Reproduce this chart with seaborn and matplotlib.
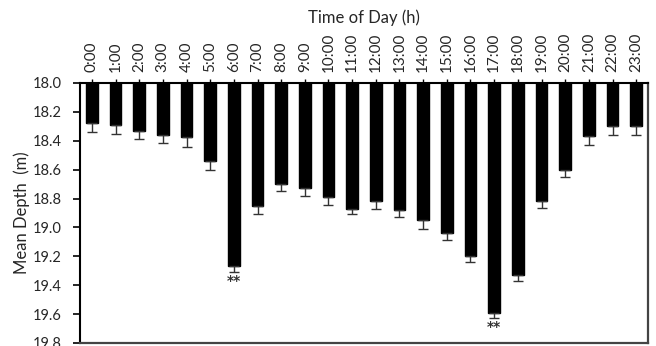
import matplotlib
matplotlib.use("Agg")
import matplotlib.pyplot as plt
import seaborn as sns
import pandas as pd
import numpy as np

hours = [f"{h}:00" for h in range(24)]
mean_depth = [18.28, 18.29, 18.33, 18.36, 18.375, 18.54, 19.27, 18.85,
              18.70, 18.73, 18.79, 18.87, 18.82, 18.88, 18.95, 19.04,
              19.20, 19.59, 19.33, 18.815, 18.60, 18.365, 18.30, 18.30]
depth_se = [0.06, 0.06, 0.055, 0.055, 0.065, 0.06, 0.04, 0.055,
            0.05, 0.055, 0.055, 0.04, 0.055, 0.05, 0.06, 0.05,
            0.04, 0.04, 0.04, 0.05, 0.05, 0.065, 0.06, 0.06]
significant = ["", "", "", "", "", "", "**", "", "", "", "", "", "", "", "",
               "", "", "**", "", "", "", "", "", ""]
y_ticks = [18.0, 18.2, 18.4, 18.6, 18.8, 19.0, 19.2, 19.4, 19.6, 19.8]

df = pd.DataFrame({"hour": hours, "depth": mean_depth})

sns.set_theme(style="white")
plt.rcParams["font.family"] = ["Lato", "DejaVu Sans"]

fig = plt.figure(figsize=(6.56, 3.46), dpi=100)
ax = fig.add_axes([80 / 656, 3 / 346, 568 / 656, 260 / 346])

sns.barplot(data=df, x="hour", y="depth", color="black", width=0.5,
            saturation=1, ax=ax, errorbar=None, edgecolor="black")

x = np.arange(len(hours))
ax.errorbar(x, mean_depth, yerr=[np.zeros(len(hours)), depth_se], fmt="none",
            ecolor="#333333", elinewidth=1.0, capsize=3.5, capthick=1.0)

# significance markers just below the error bars
for xi, (v, e, s) in enumerate(zip(mean_depth, depth_se, significant)):
    if s:
        ax.text(xi, v + e + 0.06, s, ha="center", va="center", fontsize=10,
                color="#333333", fontweight="bold", family="DejaVu Sans")

ax.set_ylim(19.8, 18.0)
ax.set_xlim(-0.5, 23.5)
ax.set_yticks(y_ticks)
ax.set_yticklabels([f"{t:.1f}" for t in y_ticks], fontsize=10.5)

ax.xaxis.tick_top()
ax.xaxis.set_label_position("top")
ax.set_xticks(x)
ax.set_xticklabels(hours, rotation=90, fontsize=11)
ax.set_xlabel("Time of Day (h)", fontsize=12, labelpad=7)
ax.set_ylabel("Mean Depth  (m)", fontsize=12, labelpad=2)

ax.tick_params(axis="y", direction="out", length=5, width=1.2, color="black",
               left=True, pad=8)
ax.tick_params(axis="x", direction="out", length=3, width=1.0, color="black",
               top=True, bottom=False, pad=5)

for side in ["left", "top"]:
    ax.spines[side].set_color("black")
    ax.spines[side].set_linewidth(1.5)
for side in ["right", "bottom"]:
    ax.spines[side].set_color("#444444")
    ax.spines[side].set_linewidth(1.6)

fig.savefig("out.png", dpi=100)
